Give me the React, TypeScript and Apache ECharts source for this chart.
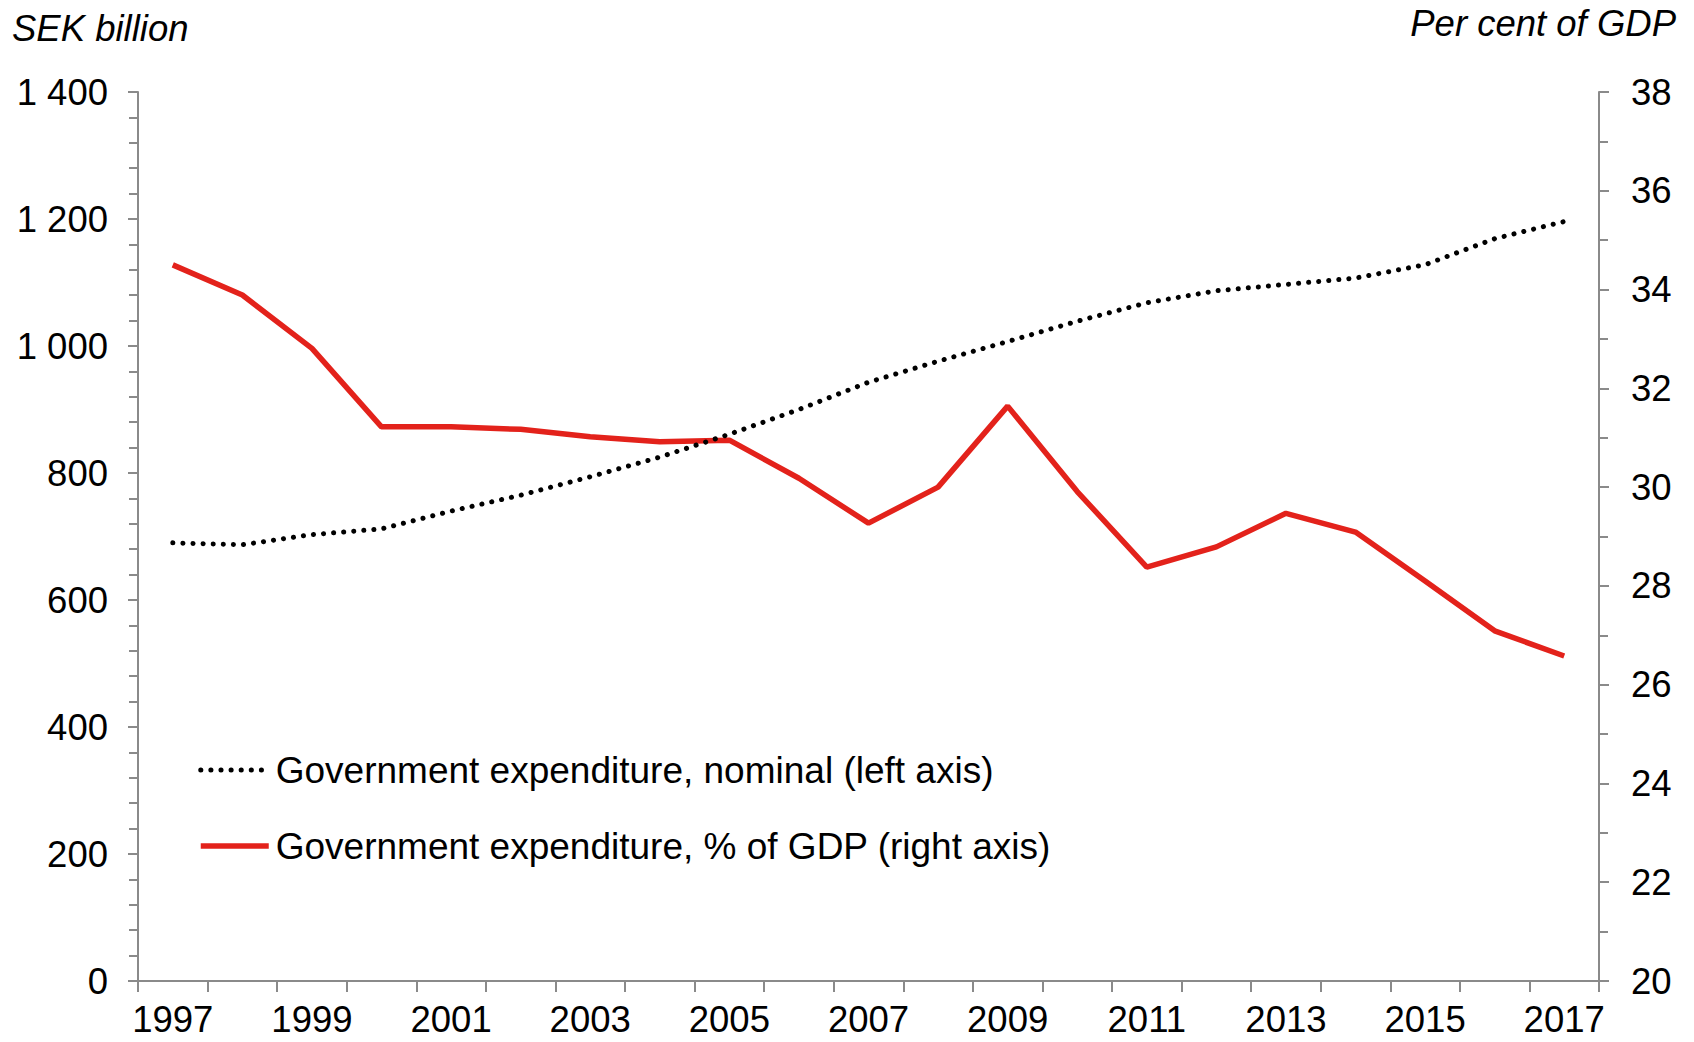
import React, { useEffect, useRef } from "react";
import * as echarts from "echarts";

const years = [
  "1997", "1998", "1999", "2000", "2001", "2002", "2003", "2004", "2005", "2006", "2007",
  "2008", "2009", "2010", "2011", "2012", "2013", "2014", "2015", "2016", "2017",
];
const nominal = [
  690, 687, 703, 712, 740, 765, 794, 825, 861, 900, 943,
  976, 1007, 1039, 1068, 1087, 1097, 1107, 1128, 1169, 1196,
];
const pctOfGdp = [
  34.5, 33.89, 32.81, 31.22, 31.22, 31.17, 31.02, 30.92, 30.95, 30.18, 29.27,
  30.0, 31.64, 29.91, 28.38, 28.79, 29.47, 29.09, 28.1, 27.09, 26.58,
];
const leftAxisRange = { min: 0, max: 1400, interval: 200 };
const rightAxisRange = { min: 20, max: 38, interval: 2 };
const nominalName = "Government expenditure, nominal (left axis)";
const pctName = "Government expenditure, % of GDP (right axis)";
const leftTitle = "SEK billion";
const rightTitle = "Per cent of GDP";

const FONT = "'Liberation Sans', Arial, sans-serif";
const AXIS_GRAY = "#8a8a8a";
const RED = "#e3221b";
const FS = 36.5;
const DOTTED = { color: "#000", width: 5, type: [0.1, 10], cap: "round" };
const SOLID_RED = { color: RED, width: 5.5, type: "solid", cap: "butt" };

function fmtThousands(v: number): string {
  return String(v).replace(/\B(?=(\d{3})+(?!\d))/g, " ");
}

export default function App() {
  const ref = useRef<HTMLDivElement>(null);
  useEffect(() => {
    if (!ref.current) return;
    const chart = echarts.init(ref.current, undefined, { renderer: "svg" });
    const hidden = { color: "rgba(0,0,0,0)", borderColor: "rgba(0,0,0,0)", borderWidth: 0 };
    chart.setOption({
      animation: false,
      backgroundColor: "#ffffff",
      textStyle: { fontFamily: FONT, color: "#000" },
      title: [
        {
          text: leftTitle,
          left: 12,
          top: 10,
          padding: 0,
          textStyle: { fontFamily: FONT, fontSize: FS, fontStyle: "italic", fontWeight: "normal", color: "#000" },
        },
        {
          text: rightTitle,
          right: 18,
          top: 5,
          padding: 0,
          textStyle: { fontFamily: FONT, fontSize: FS, fontStyle: "italic", fontWeight: "normal", color: "#000" },
        },
      ],
      grid: { left: 138, right: 95, top: 92, bottom: 61, containLabel: false },
      legend: {
        orient: "vertical",
        left: 198,
        top: 750,
        padding: 0,
        itemWidth: 68,
        itemHeight: 40,
        itemGap: 36,
        selectedMode: false,
        itemStyle: hidden,
        textStyle: { fontFamily: FONT, fontSize: 37, color: "#000", lineHeight: 40, padding: [0, 0, 0, 2] },
        data: [
          { name: nominalName, itemStyle: hidden, lineStyle: DOTTED },
          { name: pctName, itemStyle: hidden, lineStyle: SOLID_RED },
        ],
      },
      xAxis: {
        type: "category",
        data: years,
        boundaryGap: true,
        axisLine: { show: true, lineStyle: { color: AXIS_GRAY, width: 2 } },
        axisTick: { show: true, interval: 0, length: 11, lineStyle: { color: AXIS_GRAY, width: 2 } },
        axisLabel: { interval: 1, margin: 21, fontFamily: FONT, fontSize: FS, lineHeight: 34, color: "#000" },
        splitLine: { show: false },
      },
      yAxis: [
        {
          type: "value",
          position: "left",
          min: leftAxisRange.min,
          max: leftAxisRange.max,
          interval: leftAxisRange.interval,
          axisLine: { show: true, lineStyle: { color: AXIS_GRAY, width: 2 } },
          axisTick: { show: true, length: 10, lineStyle: { color: AXIS_GRAY, width: 2 } },
          minorTick: { show: true, splitNumber: 5, length: 9, lineStyle: { color: AXIS_GRAY, width: 2 } },
          axisLabel: { margin: 30, fontFamily: FONT, fontSize: FS, color: "#000", formatter: (v: number) => fmtThousands(v) },
          splitLine: { show: false },
          minorSplitLine: { show: false },
        },
        {
          type: "value",
          position: "right",
          min: rightAxisRange.min,
          max: rightAxisRange.max,
          interval: rightAxisRange.interval,
          axisLine: { show: true, lineStyle: { color: AXIS_GRAY, width: 2 } },
          axisTick: { show: true, length: 10, lineStyle: { color: AXIS_GRAY, width: 2 } },
          minorTick: { show: true, splitNumber: 2, length: 9, lineStyle: { color: AXIS_GRAY, width: 2 } },
          axisLabel: { margin: 32, fontFamily: FONT, fontSize: FS, color: "#000" },
          splitLine: { show: false },
          minorSplitLine: { show: false },
        },
      ],
      series: [
        {
          name: nominalName,
          type: "line",
          yAxisIndex: 0,
          data: nominal,
          symbol: "none",
          showSymbol: false,
          color: "#000",
          lineStyle: DOTTED,
          z: 3,
        },
        {
          name: pctName,
          type: "line",
          yAxisIndex: 1,
          data: pctOfGdp,
          symbol: "none",
          showSymbol: false,
          color: RED,
          lineStyle: SOLID_RED,
          z: 2,
        },
      ],
    });
    return () => chart.dispose();
  }, []);
  return (
    <div
      ref={ref}
      style={{ position: "fixed", left: 0, top: 0, width: "1694px", height: "1042px", background: "#fff" }}
    />
  );
}
